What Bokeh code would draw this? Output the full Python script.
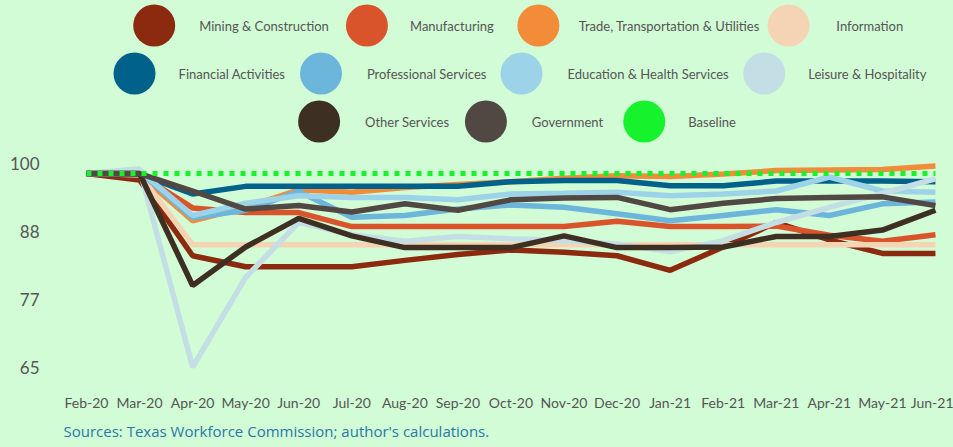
from bokeh.plotting import figure
from bokeh.layouts import column
from bokeh.models import Range1d, FixedTicker, Title, CustomJSTickFormatter
from bokeh.core.properties import value
from bokeh.embed import file_html
from bokeh.resources import INLINE

# ---------------- data ----------------
months = ["Feb-20", "Mar-20", "Apr-20", "May-20", "Jun-20", "Jul-20", "Aug-20",
          "Sep-20", "Oct-20", "Nov-20", "Dec-20", "Jan-21", "Feb-21", "Mar-21",
          "Apr-21", "May-21", "Jun-21"]

mining = [100, 98.9, 85.9, 84.0, 84.0, 84.0, 85.1, 86.1, 86.9, 86.5, 85.9, 83.4, 87.4, 91.6, 88.6, 86.3, 86.3]
manufacturing = [100, 99.8, 94.1, 93.3, 93.3, 90.9, 90.9, 90.9, 90.9, 90.9, 91.8, 90.9, 90.9, 91.0, 89.4, 88.4, 89.5]
trade = [100, 99.8, 91.9, 94.2, 97.2, 96.8, 97.6, 98.1, 98.6, 99.2, 99.6, 99.5, 99.9, 100.5, 100.6, 100.7, 101.3]
information = [100, 99.8, 87.8, 87.8, 87.8, 87.8, 87.8, 87.8, 87.8, 87.8, 87.8, 87.8, 87.8, 87.8, 87.8, 87.8, 87.8]
financial = [100, 99.9, 96.5, 97.8, 97.8, 97.8, 97.8, 97.8, 98.6, 98.8, 98.8, 97.9, 97.9, 98.7, 98.7, 98.7, 98.6]
professional = [100, 100.3, 92.4, 93.7, 96.9, 92.5, 92.8, 93.9, 94.6, 94.2, 93.1, 91.9, 92.8, 93.8, 92.8, 94.8, 95.1]
education = [100, 100.5, 92.8, 94.9, 96.2, 95.9, 95.9, 95.5, 96.5, 96.6, 96.8, 96.2, 96.5, 97.0, 99.4, 97.0, 96.8]
leisure = [100, 100.8, 66.8, 82.2, 91.6, 89.5, 88.4, 89.2, 88.8, 88.5, 87.9, 86.6, 88.5, 91.6, 94.2, 96.6, 99.1]
other_services = [100, 100, 80.8, 87.4, 92.3, 89.3, 87.3, 87.3, 87.3, 89.3, 87.3, 87.3, 87.4, 89.2, 89.2, 90.3, 93.7]
government = [100, 100, 97.0, 93.9, 94.5, 93.4, 94.8, 93.7, 95.5, 95.8, 95.9, 93.8, 94.9, 95.7, 95.9, 96.0, 94.5]
baseline = [100, 100, 100, 100, 100, 100, 100, 100, 100, 100, 100, 100, 100, 100, 100, 100, 100]

series_names = ["Mining & Construction", "Manufacturing", "Trade, Transportation & Utilities",
                "Information", "Financial Activities", "Professional Services",
                "Education & Health Services", "Leisure & Hospitality", "Other Services",
                "Government", "Baseline"]
series_values = [mining, manufacturing, trade, information, financial, professional,
                 education, leisure, other_services, government, baseline]

y_tick_labels = ["65", "77", "88", "100"]
source_text = "Sources: Texas Workforce Commission; author's calculations."

# ---------------- styles / layout ----------------
colors = ["#8b2a0e", "#d9532b", "#f28c38", "#f5d4b4", "#00628b", "#6cb5db",
          "#9dd3e8", "#c3dfe5", "#3d2f21", "#524843", "#16f22c"]
BG = "#d2fcd6"
FONT = "Lato"
TXT = "#555555"

legend_circle_x = [100, 327, 510, 777, 79, 278, 492, 751, 276, 454, 623]
legend_text_x = [148, 373, 553, 828, 126, 327, 541, 798, 325, 503, 670]
legend_row_of = [0, 0, 0, 0, 1, 1, 1, 1, 2, 2, 2]
legend_row_y = [25, 73, 121]
y_tick_pos = [66.72, 78.4, 90.05, 101.7]

# ---------------- legend panel ----------------
leg = figure(width=953, height=145, x_range=Range1d(0, 953), y_range=Range1d(145, 0),
             output_backend="svg", toolbar_location=None, min_border=0,
             background_fill_color=BG, border_fill_color=BG, outline_line_color=None)
leg.axis.visible = False
leg.grid.visible = False
ly = [legend_row_y[r] for r in legend_row_of]
leg.scatter(x=legend_circle_x, y=ly, size=42, color=colors, line_color=None)
leg.text(x=legend_text_x, y=ly, text=series_names, text_baseline="middle", text_align="left",
         text_font=value(FONT), text_font_size="13px", text_color=TXT)

# ---------------- main chart ----------------
xs = list(range(len(months)))
p = figure(width=953, height=302, x_range=Range1d(-0.49, 16.34), y_range=Range1d(63.81, 103.95),
           output_backend="svg", toolbar_location=None,
           min_border_left=60, min_border_right=0, min_border_top=5, min_border_bottom=63,
           background_fill_color=BG, border_fill_color=BG, outline_line_color=None)
p.grid.visible = False

for name, vals, col in zip(series_names, series_values, colors):
    if name == "Baseline":
        p.line(xs, vals, line_color=col, line_width=5, line_dash="5 6")
    else:
        p.line(xs, vals, line_color=col, line_width=5.5)

p.xaxis.ticker = FixedTicker(ticks=xs)
p.xaxis.major_label_overrides = {i: m for i, m in enumerate(months)}
p.yaxis.ticker = FixedTicker(ticks=y_tick_pos)
p.yaxis.formatter = CustomJSTickFormatter(args=dict(labels=y_tick_labels), code="return labels[index];")
for ax in (p.xaxis, p.yaxis):
    ax.axis_line_color = None
    ax.major_tick_line_color = None
    ax.minor_tick_line_color = None
    ax.major_label_text_font = FONT
    ax.major_label_text_color = TXT
p.xaxis.major_label_text_font_size = "14px"
p.xaxis.major_label_standoff = 3
p.yaxis.major_label_text_font_size = "17px"
p.yaxis.major_label_standoff = 15

p.add_layout(Title(text=source_text, align="left", text_font="Open Sans", text_font_size="15px",
                   text_font_style="normal", text_color="#2878a8", offset=3, standoff=11), "below")

layout = column(leg, p, spacing=0, styles={"background-color": BG})
open("out.html", "w").write(file_html(layout, INLINE))
